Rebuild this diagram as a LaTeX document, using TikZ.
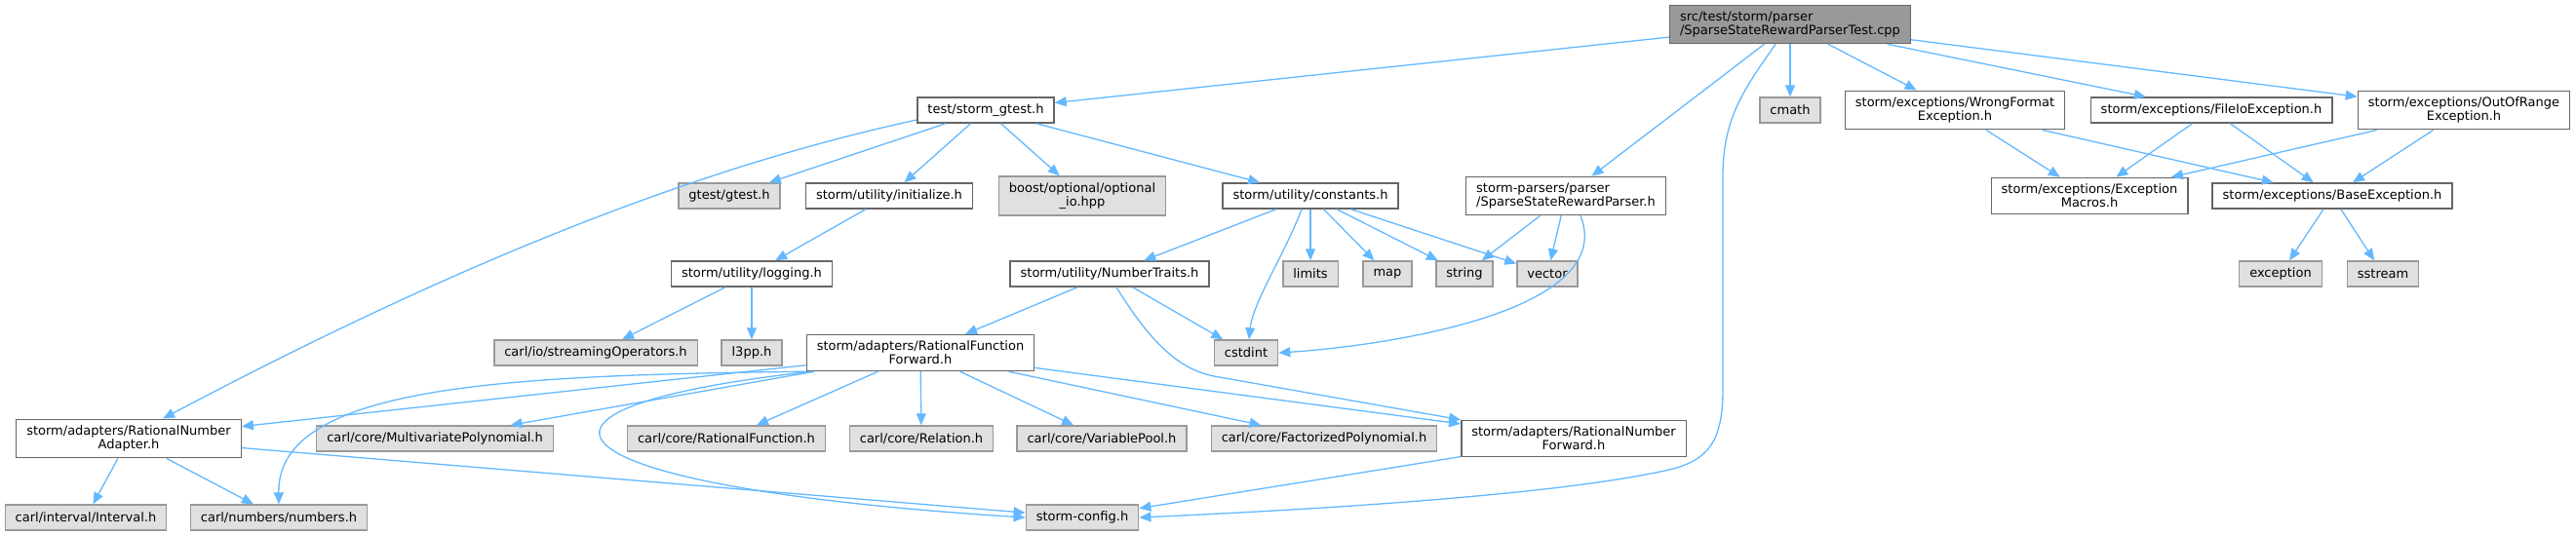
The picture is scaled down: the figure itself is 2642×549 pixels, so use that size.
\documentclass[tikz,border=0pt]{standalone}
\usepackage{fontspec}
\setmainfont{DejaVu Sans}
\usetikzlibrary{arrows.meta}
\definecolor{edgeblue}{HTML}{63B8FF}
\definecolor{sysfill}{HTML}{E0E0E0}
\definecolor{sysline}{HTML}{999999}
\definecolor{incline}{HTML}{666666}

\begin{document}
\begin{tikzpicture}[x=1pt, y=-1pt,
    every node/.style={font=\fontsize{13}{14}\selectfont, inner xsep=10.5pt, inner ysep=6.5pt, minimum height=26pt, line width=1.4pt},
    incbox/.style={draw=incline, fill=white, align=center},
    sysbox/.style={draw=sysline, fill=sysfill, align=center},
    srcbox/.style={draw=incline, fill=sysline, align=left},
    arr/.style={-{Triangle[length=12pt,width=10pt]}, draw=edgeblue, line width=1.3pt}
]
    \useasboundingbox (0,0) rectangle (2642,549);

    % the test file
    \node[srcbox] (src) at (1836,25) {src/test/storm/parser\\/SparseStateRewardParserTest.cpp};

    % first level
    \node[incbox] (gtst) at (1011,113) {test/storm\_gtest.h};
    \node[sysbox] (cmath) at (1836,113) {cmath};
    \node[incbox] (wrongfmt) at (2005,113) {storm/exceptions/WrongFormat\\Exception.h};
    \node[incbox] (fileio) at (2268,113) {storm/exceptions/FileIoException.h};
    \node[incbox] (outrange) at (2527,113) {storm/exceptions/OutOfRange\\Exception.h};

    \node[sysbox] (gtestgt) at (748,201) {gtest/gtest.h};
    \node[incbox] (init) at (912,201) {storm/utility/initialize.h};
    \node[sysbox] (boostopt) at (1110,201) {boost/optional/optional\\\_io.hpp};
    \node[incbox] (consts) at (1344,201) {storm/utility/constants.h};
    \node[incbox, align=left] (parser) at (1606,201) {storm-parsers/parser\\/SparseStateRewardParser.h};
    \node[incbox] (exmac) at (2143,201) {storm/exceptions/Exception\\Macros.h};
    \node[incbox] (baseex) at (2392,201) {storm/exceptions/BaseException.h};

    \node[incbox] (logging) at (771,281) {storm/utility/logging.h};
    \node[incbox] (numtr) at (1138,281) {storm/utility/NumberTraits.h};
    \node[sysbox] (limits) at (1344,281) {limits};
    \node[sysbox] (map) at (1423,281) {map};
    \node[sysbox] (strn) at (1502,281) {string};
    \node[sysbox] (vect) at (1587,281) {vector};
    \node[sysbox] (exc) at (2339,281) {exception};
    \node[sysbox] (sstr) at (2444,281) {sstream};

    \node[sysbox] (strops) at (611,362) {carl/io/streamingOperators.h};
    \node[sysbox] (lpp) at (771,362) {l3pp.h};
    \node[incbox] (rfunfwd) at (944,362) {storm/adapters/RationalFunction\\Forward.h};
    \node[sysbox] (cstd) at (1278,362) {cstdint};

    \node[incbox] (rnumadp) at (132,450) {storm/adapters/RationalNumber\\Adapter.h};
    \node[sysbox] (mpoly) at (446,450) {carl/core/MultivariatePolynomial.h};
    \node[sysbox] (rfun) at (745,450) {carl/core/RationalFunction.h};
    \node[sysbox] (relat) at (945,450) {carl/core/Relation.h};
    \node[sysbox] (vpool) at (1130,450) {carl/core/VariablePool.h};
    \node[sysbox] (fpoly) at (1358,450) {carl/core/FactorizedPolynomial.h};
    \node[incbox] (rnumfwd) at (1614,450) {storm/adapters/RationalNumber\\Forward.h};

    \node[sysbox] (interval) at (88,531) {carl/interval/Interval.h};
    \node[sysbox] (numbers) at (286,531) {carl/numbers/numbers.h};
    \node[sysbox] (cfg) at (1110,531) {storm-config.h};

    % includes of the test file
    \draw[arr] (src) -- (gtst);
    \draw[arr] (src) -- (parser);
    \draw[arr] ([xshift=-15pt]src.south) .. controls (1790,90) and (1767,120) .. (1767,180)
        -- (1767,400) .. controls (1767,455) and (1750,470) .. (1720,480)
        .. controls (1600,510) and (1300,525) .. (cfg.east);
    \draw[arr] (src) -- (cmath);
    \draw[arr] (src) -- (wrongfmt);
    \draw[arr] (src) -- (fileio);
    \draw[arr] (src) -- (outrange);

    % exceptions
    \draw[arr] (wrongfmt) -- (exmac);
    \draw[arr] (wrongfmt) -- (baseex);
    \draw[arr] (fileio) -- (exmac);
    \draw[arr] (fileio) -- (baseex);
    \draw[arr] (outrange) -- (exmac);
    \draw[arr] (outrange) -- (baseex);
    \draw[arr] (baseex) -- (exc);
    \draw[arr] (baseex) -- (sstr);

    % storm_gtest.h
    \draw[arr] ([yshift=-10pt]gtst.west) .. controls (700,175) and (450,280) .. ([xshift=35pt]rnumadp.north);
    \draw[arr] (gtst) -- (gtestgt);
    \draw[arr] (gtst) -- (init);
    \draw[arr] (gtst) -- (boostopt);
    \draw[arr] (gtst) -- (consts);
    \draw[arr] (init) -- (logging);
    \draw[arr] (logging) -- (strops);
    \draw[arr] (logging) -- (lpp);

    % constants.h and the parser
    \draw[arr] (consts) -- (numtr);
    \draw[arr] ([xshift=-9pt]consts.south) .. controls (1318,260) and (1285,310) .. ([xshift=3pt]cstd.north);
    \draw[arr] (consts) -- (limits);
    \draw[arr] (consts) -- (map);
    \draw[arr] (consts) -- (strn);
    \draw[arr] (consts) -- (vect);
    \draw[arr] (parser) -- (strn);
    \draw[arr] (parser) -- (vect);
    \draw[arr] ([xshift=15pt]parser.south) .. controls (1660,320) and (1420,355) .. (cstd.east);

    % NumberTraits.h
    \draw[arr] (numtr) -- (rfunfwd);
    \draw[arr] (numtr) -- (cstd);
    \draw[arr] ([xshift=7pt]numtr.south) .. controls (1185,360) and (1215,380) .. (1245,386) -- (rnumfwd.north west);

    % RationalFunctionForward.h
    \draw[arr] (rfunfwd) -- (rnumadp);
    \draw[arr] (rfunfwd.south west) .. controls (520,385) and (284,395) .. (numbers.north);
    \draw[arr] (rfunfwd) -- (mpoly);
    \draw[arr] (rfunfwd) -- (rfun);
    \draw[arr] (rfunfwd) -- (relat);
    \draw[arr] (rfunfwd) -- (vpool);
    \draw[arr] (rfunfwd) -- (fpoly);
    \draw[arr] (rfunfwd) -- (rnumfwd);
    \draw[arr] ([xshift=6pt]rfunfwd.south west) .. controls (480,420) and (560,500) .. (cfg.west);

    % adapters
    \draw[arr] (rnumadp) -- (interval);
    \draw[arr] (rnumadp) -- (numbers);
    \draw[arr] (rnumadp) -- (cfg);
    \draw[arr] (rnumfwd) -- (cfg);
\end{tikzpicture}
\end{document}
